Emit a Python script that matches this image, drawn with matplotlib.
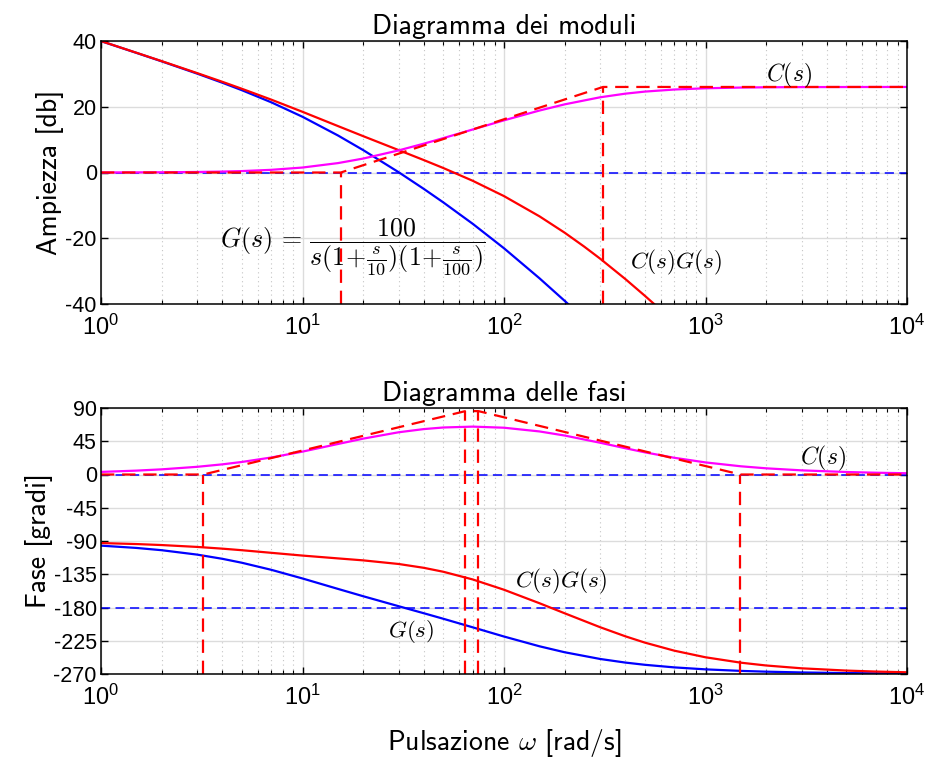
"""Bode diagrams of G(s), the lead network C(s) and C(s)G(s) with asymptotes."""

import matplotlib
matplotlib.use("Agg")
import matplotlib.pyplot as plt
from matplotlib.ticker import NullFormatter

plt.rcParams["font.family"] = ["cmss10", "DejaVu Sans"]
plt.rcParams["mathtext.fontset"] = "cm"
plt.rcParams["axes.unicode_minus"] = False

# ── Data ──────────────────────────────────────────────────────────────
w = [1, 1.5, 2, 3, 4, 5, 7, 10, 15, 20, 30, 40, 50, 70, 100, 150, 200,
     300, 400, 500, 700, 1000, 1500, 2000, 3000, 5000, 7000, 10000]

mag_C = [0.02, 0.04, 0.07, 0.16, 0.28, 0.43, 0.81, 1.51, 2.86, 4.24, 6.72,
         8.77, 10.46, 13.09, 15.87, 18.85, 20.73, 22.88, 23.98, 24.61,
         25.24, 25.62, 25.84, 25.92, 25.98, 26.00, 26.01, 26.02]

w_G = [1, 1.5, 2, 3, 4, 5, 7, 10, 15, 20, 30, 40, 50, 70, 100, 150, 200, 250]
mag_G = [39.96, 36.38, 33.81, 30.08, 27.31, 25.04, 21.35, 16.95, 11.26,
         6.82, 0.09, -4.99, -9.10, -15.62, -23.05, -32.18, -39.04, -44.53]

w_CG = [1, 1.5, 2, 3, 4, 5, 7, 10, 15, 20, 30, 40, 50, 70, 100, 150, 200,
        250, 300, 400, 500, 600]
mag_CG = [39.98, 36.42, 33.88, 30.24, 27.59, 25.47, 22.16, 18.46, 14.12,
          11.06, 6.81, 3.78, 1.36, -2.53, -7.18, -13.33, -18.31, -22.54,
          -26.21, -32.40, -37.50, -41.80]

ph_G = [-96.28, -99.39, -102.46, -108.42, -114.09, -119.43, -129.00,
        -140.71, -154.84, -164.74, -178.26, -187.77, -195.26, -206.86,
        -219.29, -232.50, -240.57, -249.66, -254.53, -257.54, -261.05,
        -263.72, -265.80, -266.85, -267.90, -268.74, -269.10, -269.37]
ph_C = [3.51, 5.25, 6.98, 10.40, 13.73, 16.96, 23.01, 30.98, 41.29, 48.53,
        57.15, 61.47, 63.62, 64.79, 63.31, 58.28, 52.74, 42.98, 35.56,
        30.02, 22.62, 16.34, 11.09, 8.37, 5.60, 3.37, 2.41, 1.69]
ph_CG = [-92.77, -94.14, -95.48, -98.02, -100.36, -102.47, -105.99,
         -109.73, -113.55, -116.21, -121.11, -126.30, -131.64, -142.07,
         -155.98, -174.22, -187.83, -206.68, -218.97, -227.52, -238.43,
         -247.38, -254.71, -258.48, -262.30, -265.37, -266.69, -267.68]

# asymptotic approximations of C(s)
asym_mag_w = [1, 15.5, 310, 10000]
asym_mag = [0, 0, 26.02, 26.02]
asym_ph_w = [1, 3.22, 64.4, 74.6, 1491, 10000]
asym_ph = [0, 0, 85.8, 85.8, 0, 0]

# break points marked with vertical dashed lines
mark_mag_w = [15.5, 310]
mark_mag = [0, 26.02]
mark_ph_w = [3.22, 64.4, 74.6, 1491]
mark_ph = [0, 85.8, 85.8, 0]

x_ticks = [1, 10, 100, 1000, 10000]
x_ticklabels = [r"$\mathdefault{10^{0}}$", r"$\mathdefault{10^{1}}$",
                r"$\mathdefault{10^{2}}$", r"$\mathdefault{10^{3}}$",
                r"$\mathdefault{10^{4}}$"]
mag_ticks = [40, 20, 0, -20, -40]
mag_ticklabels = ["40", "20", "0", "-20", "-40"]
ph_ticks = [90, 45, 0, -45, -90, -135, -180, -225, -270]
ph_ticklabels = ["90", "45", "0", "-45", "-90", "-135", "-180", "-225", "-270"]

# ── Styling ───────────────────────────────────────────────────────────
BLUE, RED, MAGENTA = "#0000ff", "#ff0000", "#ff00ff"
DASH = (0, (6, 3.5))
LW = 1.6
TICK_FONT = "Liberation Sans"

fig = plt.figure(figsize=(9.25, 7.58), dpi=100)
ax_mag = fig.add_axes([101 / 925, 1 - 304 / 758, 806 / 925, 263 / 758])
ax_ph = fig.add_axes([101 / 925, 1 - 674 / 758, 806 / 925, 266 / 758])


def style(ax, ticks, labels, ylim):
    ax.set_xscale("log")
    ax.set_xlim(1, 1e4)
    ax.set_ylim(*ylim)
    ax.set_xticks(x_ticks)
    ax.set_xticklabels(x_ticklabels, fontfamily=TICK_FONT, fontsize=17)
    ax.xaxis.set_minor_formatter(NullFormatter())
    ax.set_yticks(ticks)
    ax.set_yticklabels(labels, fontfamily=TICK_FONT, fontsize=15.5)
    ax.grid(True, which="major", color="#dcdcdc", linewidth=1.0, linestyle="-")
    ax.grid(True, which="minor", axis="x", color="#c4c4c4", linewidth=0.8,
            linestyle=(0, (1, 3)))
    ax.set_axisbelow(True)
    ax.tick_params(which="both", direction="in", top=True, right=True)
    ax.tick_params(axis="x", which="major", pad=8)
    ax.tick_params(axis="y", which="major", pad=3)
    ax.tick_params(which="major", length=5, width=1)
    ax.tick_params(which="minor", length=3, width=0.8)
    for sp in ax.spines.values():
        sp.set_linewidth(1.1)


style(ax_mag, mag_ticks, mag_ticklabels, (-40, 40))
style(ax_ph, ph_ticks, ph_ticklabels, (-270, 90))

# ── Magnitude ─────────────────────────────────────────────────────────
ax_mag.axhline(0, color=BLUE, linewidth=1.1, linestyle=DASH)
ax_mag.plot(w_G, mag_G, color=BLUE, linewidth=LW)
ax_mag.plot(w_CG, mag_CG, color=RED, linewidth=LW)
ax_mag.plot(w, mag_C, color=MAGENTA, linewidth=LW)
ax_mag.plot(asym_mag_w, asym_mag, color=RED, linewidth=LW, linestyle=DASH)
ax_mag.vlines(mark_mag_w, -40, mark_mag, colors=RED, linewidth=LW,
              linestyles=[DASH])

ax_mag.text(3.9, -22.5,
            r"$G(s)\,=\,\dfrac{100}{s(1\!+\!\frac{s}{10})(1\!+\!\frac{s}{100})}$",
            fontsize=18.7, va="center", ha="left")
ax_mag.text(2000, 29.6, r"$C(s)$", fontsize=17, va="center", ha="left")
ax_mag.text(420, -27.3, r"$C(s)G(s)$", fontsize=16.7, va="center", ha="left")

ax_mag.set_title("Diagramma dei moduli", fontsize=20, pad=5)
ax_mag.set_ylabel("Ampiezza [db]", fontsize=20, labelpad=1)

# ── Phase ─────────────────────────────────────────────────────────────
ax_ph.axhline(0, color=BLUE, linewidth=1.1, linestyle=DASH)
ax_ph.axhline(-180, color=BLUE, linewidth=1.1, linestyle=DASH)
ax_ph.plot(w, ph_G, color=BLUE, linewidth=LW)
ax_ph.plot(w, ph_CG, color=RED, linewidth=LW)
ax_ph.plot(w, ph_C, color=MAGENTA, linewidth=LW)
ax_ph.plot(asym_ph_w, asym_ph, color=RED, linewidth=LW, linestyle=DASH)
ax_ph.vlines(mark_ph_w, -270, mark_ph, colors=RED, linewidth=LW,
             linestyles=[DASH])

ax_ph.text(2940, 22, r"$C(s)$", fontsize=17, va="center", ha="left")
ax_ph.text(113, -145, r"$C(s)G(s)$", fontsize=16.7, va="center", ha="left")
ax_ph.text(26.6, -212, r"$G(s)$", fontsize=16.5, va="center", ha="left")

ax_ph.set_title("Diagramma delle fasi", fontsize=20, pad=5)
ax_ph.set_ylabel("Fase [gradi]", fontsize=20, labelpad=0)
ax_ph.set_xlabel(r"Pulsazione $\omega$ [rad/s]", fontsize=20, labelpad=12)

fig.savefig("out.png", dpi=100)
